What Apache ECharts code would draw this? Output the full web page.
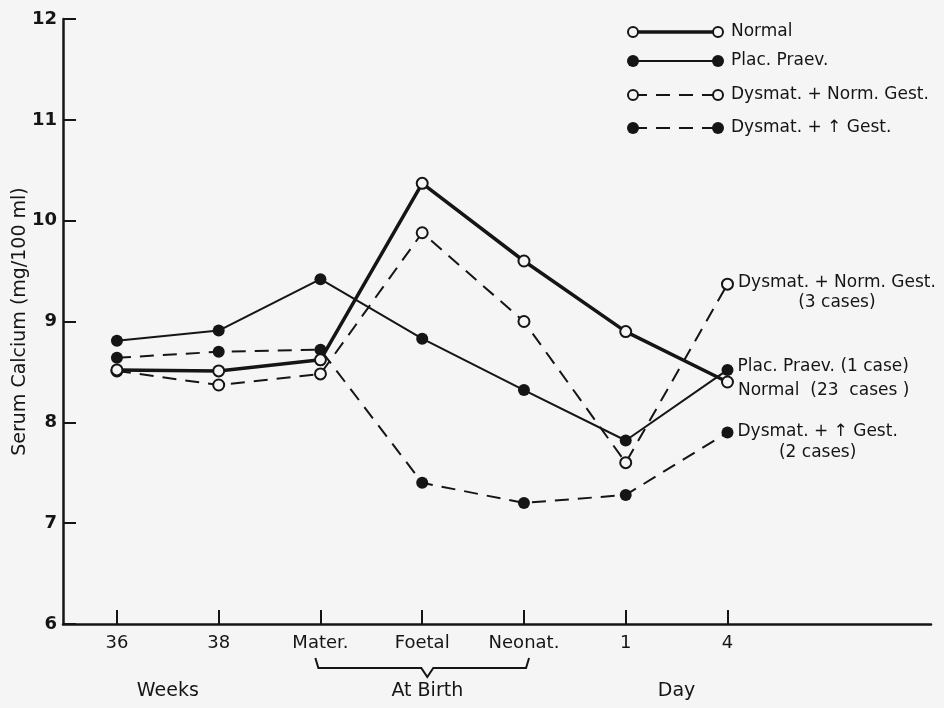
<!DOCTYPE html>
<html>
<head>
<meta charset="utf-8">
<style>
  html, body { margin: 0; padding: 0; background: #f5f5f5; }
  #chart { width: 944px; height: 708px; }
</style>
<script src="https://cdn.jsdelivr.net/npm/echarts@6/dist/echarts.min.js"></script>
</head>
<body>
<div id="chart"></div>
<script>
// Time points along the x axis
const categories = ['36', '38', 'Mater.', 'Foetal', 'Neonat.', '1', '4'];
// Serum calcium (mg/100 ml) per group
const normal     = [8.52, 8.51, 8.62, 10.37, 9.60, 8.90, 8.40];
const placPraev  = [8.81, 8.91, 9.42, 8.83, 8.32, 7.82, 8.52];
const dysmatNorm = [8.51, 8.37, 8.48, 9.88, 9.00, 7.60, 9.37];
const dysmatHigh = [8.64, 8.70, 8.72, 7.40, 7.20, 7.28, 7.90];
// Y axis ticks
const yTicks = [6, 7, 8, 9, 10, 11, 12];

const INK = '#151515';
const BG = '#f5f5f5';
const FONT = '"DejaVu Sans", sans-serif';
const TXT = 17;

const chart = echarts.init(document.getElementById('chart'), null, { renderer: 'canvas' });

const toPairs = arr => arr.map((v, i) => [i, v]);
const tickIdx = categories.map((_, i) => i);

function makeSeries(name, values, opts) {
  const last = values.length - 1;
  return {
    name: name,
    type: 'line',
    data: toPairs(values).map((p, i) => i === last && opts.endLabel
      ? { value: p, label: Object.assign({ show: true }, opts.endLabel) }
      : p),
    symbol: 'circle',
    symbolSize: opts.filled ? 12 : 11,
    showSymbol: true,
    lineStyle: { color: INK, width: opts.width, type: opts.dash ? [14, 9] : 'solid' },
    itemStyle: { color: opts.filled ? INK : BG, borderColor: INK, borderWidth: opts.filled ? 0 : 2 },
    label: { show: false },
    z: opts.z,
    animation: false
  };
}

const labelBase = {
  position: 'right',
  distance: 4,
  color: INK,
  fontFamily: FONT,
  fontSize: TXT,
  lineHeight: 20
};

const option = {
  backgroundColor: BG,
  animation: false,
  grid: { left: 63, right: 13, top: 19, bottom: 84, containLabel: false, outerBoundsMode: 'none' },
  xAxis: {
    type: 'value',
    min: -0.53,
    max: 8,
    axisLine: { show: true, onZero: false, lineStyle: { color: INK, width: 2.5 } },
    axisTick: { show: true, inside: true, length: 14, lineStyle: { color: INK, width: 2 }, customValues: tickIdx },
    axisLabel: {
      show: true, customValues: tickIdx, margin: 10,
      formatter: v => categories[Math.round(v)] ?? '',
      color: INK, fontFamily: FONT, fontSize: 18
    },
    splitLine: { show: false }
  },
  yAxis: {
    type: 'value',
    min: yTicks[0],
    max: yTicks[yTicks.length - 1],
    interval: 1,
    name: 'Serum Calcium (mg/100 ml)',
    nameLocation: 'middle',
    nameGap: 33,
    nameMoveOverlap: false,
    nameRotate: 90,
    nameTextStyle: { color: INK, fontFamily: FONT, fontSize: 19 },
    axisLine: { show: true, onZero: false, lineStyle: { color: INK, width: 2.5 } },
    axisTick: { show: true, inside: true, length: 13, lineStyle: { color: INK, width: 2 } },
    axisLabel: { color: INK, fontFamily: FONT, fontSize: 18, fontWeight: 'bold', margin: 6 },
    splitLine: { show: false }
  },
  series: [
    makeSeries('Dysmat. + ↑ Gest.', dysmatHigh, {
      filled: true, width: 2, dash: true, z: 2,
      endLabel: Object.assign({}, labelBase, {
        offset: [0, 10],
        formatter: '{t|Dysmat. + ↑ Gest.}\n{c|(2 cases)}',
        rich: { t: { fontFamily: FONT, fontSize: TXT, color: INK, lineHeight: 21 },
                c: { fontFamily: FONT, fontSize: TXT, color: INK, lineHeight: 21, align: 'center' } }
      })
    }),
    makeSeries('Dysmat. + Norm. Gest.', dysmatNorm, {
      filled: false, width: 2, dash: true, z: 3,
      endLabel: Object.assign({}, labelBase, {
        offset: [0, 8],
        formatter: '{t|Dysmat. + Norm. Gest.}\n{c|(3 cases)}',
        rich: { t: { fontFamily: FONT, fontSize: TXT, color: INK, lineHeight: 20 },
                c: { fontFamily: FONT, fontSize: TXT, color: INK, lineHeight: 20, align: 'center' } }
      })
    }),
    makeSeries('Plac. Praev.', placPraev, {
      filled: true, width: 2, dash: false, z: 4,
      endLabel: Object.assign({}, labelBase, { offset: [0, -3], formatter: 'Plac. Praev. (1 case)' })
    }),
    makeSeries('Normal', normal, {
      filled: false, width: 3.5, dash: false, z: 5,
      endLabel: Object.assign({}, labelBase, { offset: [0, 9], formatter: 'Normal  (23  cases )' })
    })
  ]
};

chart.setOption(option);

// Key in the upper right corner and the grouping captions under the x axis
const keyRows = [
  { text: 'Normal', filled: false, dash: false, width: 3.5, y: 32 },
  { text: 'Plac. Praev.', filled: true, dash: false, width: 2, y: 61 },
  { text: 'Dysmat. + Norm. Gest.', filled: false, dash: true, width: 2, y: 95 },
  { text: 'Dysmat. + ↑ Gest.', filled: true, dash: true, width: 2, y: 128 }
];
const keyX0 = 633, keyX1 = 718, keyTextX = 731;
const graphics = [];
keyRows.forEach(r => {
  graphics.push({
    type: 'line', z: 10,
    shape: { x1: keyX0, y1: r.y, x2: keyX1, y2: r.y },
    style: { stroke: INK, lineWidth: r.width, lineDash: r.dash ? [14, 9] : null }
  });
  [keyX0, keyX1].forEach(cx => graphics.push({
    type: 'circle', z: 11,
    shape: { cx: cx, cy: r.y, r: r.filled ? 6 : 5 },
    style: { fill: r.filled ? INK : BG, stroke: INK, lineWidth: r.filled ? 0 : 2 }
  }));
  graphics.push({
    type: 'text', z: 11, x: keyTextX, y: r.y,
    style: { text: r.text, fill: INK, font: TXT + 'px ' + FONT, verticalAlign: 'middle', align: 'left' }
  });
});

const px = (xv, yv) => chart.convertToPixel({ gridIndex: 0 }, [xv, yv]);
const axisY = px(0, 6)[1];
const captionY = axisY + 67;
[
  { text: 'Weeks', x: 0.5 },
  { text: 'At Birth', x: 3.05 },
  { text: 'Day', x: 5.5 }
].forEach(c => graphics.push({
  type: 'text', x: px(c.x, 6)[0], y: captionY,
  style: { text: c.text, fill: INK, font: '19px ' + FONT, align: 'center', verticalAlign: 'middle' }
}));

// Brace grouping the three at-birth samples
const bL = px(1.95, 6)[0], bR = px(4.05, 6)[0], bM = px(3.05, 6)[0];
const bTop = axisY + 34, bBot = axisY + 44, bTip = axisY + 53;
graphics.push({
  type: 'polyline',
  shape: { points: [[bL, bTop], [bL + 3, bBot], [bM - 6, bBot], [bM, bTip], [bM + 6, bBot], [bR - 3, bBot], [bR, bTop]] },
  style: { stroke: INK, lineWidth: 2, fill: null }
});

chart.setOption({ graphic: graphics });
</script>
</body>
</html>
